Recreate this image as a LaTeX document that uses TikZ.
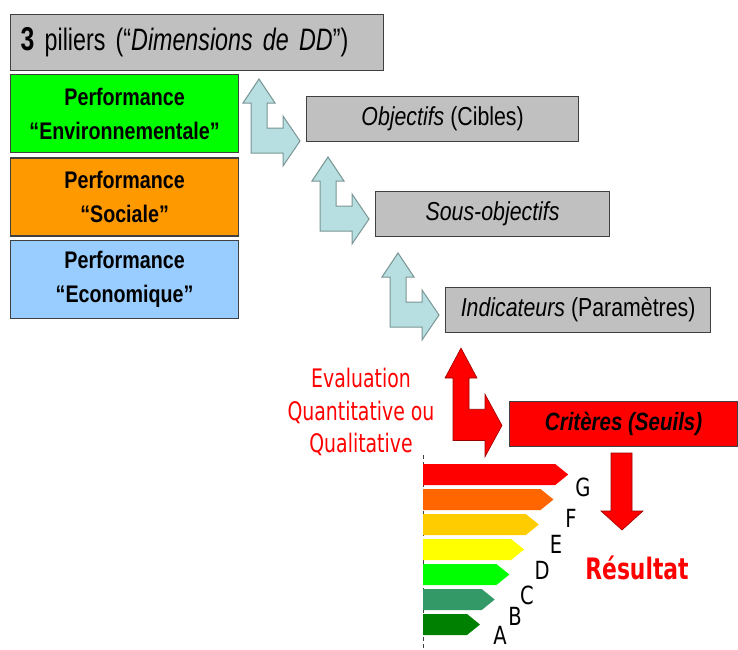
\documentclass[tikz,border=0pt]{standalone}
\usepackage{fontspec}
\setmainfont{Liberation Sans}[FakeStretch=0.82]
\newfontfamily\pilfont{Liberation Sans}[FakeStretch=0.75]
\newfontfamily\evalfont{DejaVu Sans}[FakeStretch=0.74]
\newfontfamily\lettrefont{DejaVu Sans}[FakeStretch=0.78]
\usetikzlibrary{positioning}

\definecolor{boxgrey}{HTML}{C0C0C0}
\definecolor{boxline}{HTML}{404040}
\definecolor{envgreen}{HTML}{00FF00}
\definecolor{socorange}{HTML}{FF9900}
\definecolor{ecoblue}{HTML}{99CCFF}
\definecolor{arrowfill}{HTML}{B7DEE0}
\definecolor{arrowline}{HTML}{7A9696}
\definecolor{gA}{HTML}{008000}
\definecolor{gB}{HTML}{339966}
\definecolor{gC}{HTML}{00FF00}
\definecolor{gD}{HTML}{FFFF00}
\definecolor{gE}{HTML}{FFCC00}
\definecolor{gF}{HTML}{FF6600}
\definecolor{gG}{HTML}{FF0000}

\begin{document}
\begin{tikzpicture}[x=1pt,y=-1pt]
\tikzset{greybox/.style={draw=boxline,fill=boxgrey,line width=1.2pt,minimum height=45pt,
    inner sep=0pt,anchor=north west,font=\fontsize{26}{30}\selectfont}}
\tikzset{pillar/.style={draw=boxline,line width=1.2pt,minimum width=228pt,minimum height=78pt,
    inner sep=0pt,align=center,font=\fontsize{24}{34}\selectfont\bfseries}}
\tikzset{liftarrow/.style={fill=arrowfill,draw=arrowline,line width=1pt}}
\tikzset{redarrow/.style={fill=red,draw=red!60!black,line width=0.6pt}}
\tikzset{lettre/.style={font=\lettrefont\fontsize{25}{25}\selectfont,inner sep=0pt}}
\tikzset{pics/bentarrow/.style={code={
    \path[pic actions] (0,0) -- (16,24) -- (8,24) -- (8,49) -- (24,49) -- (24,37) -- (41,62)
      -- (24,87) -- (24,74) -- (-8,74) -- (-8,24) -- (-16,24) -- cycle;}}}
\useasboundingbox (0,0) rectangle (738,649);

% les trois piliers
\node[draw=boxline,fill=boxgrey,line width=1.2pt,anchor=north west,minimum width=373pt,
  minimum height=56pt,inner xsep=10pt,inner ysep=0pt,text width=353pt,align=left,
  font=\pilfont\fontsize{31}{31}\selectfont] (piliers) at (10,14)
  {{\fontsize{33}{33}\selectfont\bfseries 3} piliers (“\textit{Dimensions de DD}”)};
\node[pillar,fill=envgreen,below=3pt of piliers.south west,anchor=north west] (envir)
  {Performance\\“Environnementale”};
\node[pillar,fill=socorange,below=4pt of envir.south west,anchor=north west] (social)
  {Performance\\“Sociale”};
\node[pillar,fill=ecoblue,below=3pt of social.south west,anchor=north west] (econ)
  {Performance\\“Economique”};

% cascade
\node[greybox,minimum width=272pt] (objectifs) at (306,96) {\textit{Objectifs} (Cibles)};
\node[greybox,minimum width=234pt] (sousobj) at (375,191) {\textit{Sous-objectifs}};
\node[greybox,minimum width=265pt] (indic) at (445,287) {\textit{Indicateurs} (Paramètres)};
\node[greybox,fill=red,minimum width=228pt,font=\fontsize{25}{30}\selectfont\bfseries\itshape]
  (criteres) at (509,401) {Critères (Seuils)};

\pic[liftarrow] at (259,79) {bentarrow};
\pic[liftarrow] at (328,157) {bentarrow};
\pic[liftarrow] at (398,253) {bentarrow};
\pic[redarrow,yscale=1.25] at (461,348) {bentarrow};

\node[text=red,align=center,inner sep=0pt,font=\evalfont\fontsize{25.5}{32.5}\selectfont]
  (evaluation) at (361,412) {Evaluation\\Quantitative ou\\Qualitative};

% etiquette energie
\draw[boxline,line width=1pt,dash pattern=on 4pt off 3pt] (423,455) -- (423,649);
\foreach \col [count=\i from 0] in {gA,gB,gC,gD,gE,gF,gG}
  \fill[\col] (423,{614-25*\i}) -- ++({44+14.7*\i},0) -- ++(13,10.5) -- ++(-13,10.5)
    -- ++({-44-14.7*\i},0) -- cycle;
\foreach \l/\x/\y in {A/500/635,B/515/616,C/527/595,D/542/570,E/556/544,F/571/518,G/583/487}
  \node[lettre] (lettre\l) at (\x,\y) {\l};

% resultat
\path[redarrow] (611,453) -- (632,453) -- (632,511) -- (643,511) -- (622,530) -- (601,511)
  -- (611,511) -- cycle;
\node[text=red,anchor=base,inner sep=0pt,font=\evalfont\fontsize{29.5}{30}\selectfont\bfseries]
  (resultat) at (637,579) {Résultat};
\end{tikzpicture}
\end{document}
